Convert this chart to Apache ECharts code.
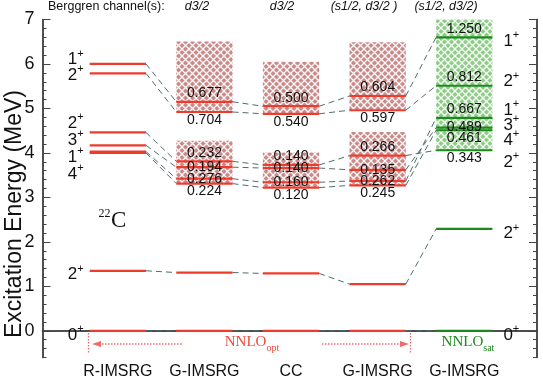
<!DOCTYPE html>
<html>
<head>
<meta charset="utf-8">
<script src="https://cdn.jsdelivr.net/npm/echarts@6/dist/echarts.min.js"></script>
<style>
  html, body { margin: 0; padding: 0; background: #fff; }
  #main { width: 543px; height: 386px; }
</style>
</head>
<body>
<div id="main"></div>
<script>
// columns (methods) and Berggren channels
var columnNames = ['R-IMSRG', 'G-IMSRG', 'CC', 'G-IMSRG', 'G-IMSRG'];
var channelNames = ['d3/2', 'd3/2', '(s1/2, d3/2 )', '(s1/2, d3/2)'];

// states: 0+, 2+(1), 2+, 3+, 1+, 4+ (lower group), 2+, 1+ (upper group)
var stateSpins = ['0', '2', '2', '3', '1', '4', '2', '1'];

// excitation energies (MeV) per column
var levelsRImsrg = [0, 1.35, 4.46, 4.17, 4.03, 4.00, 5.79, 6.00];
var levelsGImsrg = [0, 1.31, 3.81, 3.68, 3.42, 3.31, 4.92, 5.15];
var levelsCC     = [0, 1.29, 3.73, 3.66, 3.34, 3.22, 4.88, 5.05];
var levelsGImsrg2 = [0, 1.05, 3.94, 3.62, 3.37, 3.27, 4.96, 5.28];
var levelsSat    = [0, 2.29, 4.06, 4.57, 4.79, 4.51, 5.51, 6.60];

// widths (MeV) per column
var widthsRImsrg = [null, null, null, null, null, null, null, null];
var widthsGImsrg = [null, null, 0.232, 0.194, 0.276, 0.224, 0.704, 0.677];
var widthsCC     = [null, null, 0.140, 0.140, 0.160, 0.120, 0.540, 0.500];
var widthsGImsrg2 = [null, null, 0.266, 0.135, 0.262, 0.245, 0.597, 0.604];
var widthsSat    = [null, null, 0.343, 0.489, 0.667, 0.461, 0.812, 1.250];

var yTicks = [0, 1, 2, 3, 4, 5, 6, 7];

// ---- layout (not data) ----
var levels = [levelsRImsrg, levelsGImsrg, levelsCC, levelsGImsrg2, levelsSat];
var widths = [widthsRImsrg, widthsGImsrg, widthsCC, widthsGImsrg2, widthsSat];
var boxGroups = [[], [[2, 3, 4, 5], [6, 7]], [[2, 3, 4, 5], [6, 7]], [[2, 3, 4, 5], [6, 7]], [[2, 3, 4, 5, 6, 7]]];
var widthSide = [null,
  ['', '', 'a', 'o', 'o', 'b', 'b', 'a'],
  ['', '', 'a', 'o', 'o', 'b', 'b', 'a'],
  ['', '', 'a', 'o', 'o', 'b', 'b', 'a'],
  ['', '', 'b', 'o', 'a', 'b', 'a', 'a']];
var leftSpinAt = [-0.06, 1.3, 4.71, 4.32, 3.94, 3.56, 5.79, 6.13];
var rightSpinAt = [-0.07, 2.22, 3.83, 4.66, 5.0, 4.32, 5.64, 6.54];

var red = '#ef3b2c', green = '#1b8a1b', dash = '#4d6d6d';
var hw = 0.325, yMax = 7;

function hatch(base) {
  var c = document.createElement('canvas');
  c.width = c.height = 7;
  var g = c.getContext('2d');
  g.fillStyle = base;
  g.fillRect(0, 0, 7, 7);
  g.strokeStyle = 'rgba(255,255,255,0.95)';
  g.lineWidth = 1.3;
  g.beginPath();
  g.moveTo(0, 0); g.lineTo(7, 7);
  g.moveTo(7, 0); g.lineTo(0, 7);
  g.stroke();
  return c;
}
var redHatch = { image: hatch('#cb8a8a'), repeat: 'repeat' };
var greenHatch = { image: hatch('#8dcd86'), repeat: 'repeat' };

// build series data
var levelData = [], connData = [], boxData = [], widthData = [], spinData = [];
levels.forEach(function (col, c) {
  col.forEach(function (e, s) {
    levelData.push([c + 1, e, c === 4 ? 1 : 0]);
    if (c < 4) connData.push([c + 1, e, levels[c + 1][s]]);
    if (widths[c][s] != null) {
      var side = widthSide[c][s] === 'a' ? 0 : widthSide[c][s] === 'o' ? 1 : 2;
      widthData.push([c + 1, e, widths[c][s], side]);
    }
  });
  boxGroups[c].forEach(function (g) {
    var lo = Infinity, hi = -Infinity;
    g.forEach(function (s) {
      lo = Math.min(lo, col[s]);
      hi = Math.max(hi, col[s] + 2 * widths[c][s]);
    });
    boxData.push([c + 1, lo, Math.min(hi, yMax), c === 4 ? 1 : 0]);
  });
});
stateSpins.forEach(function (sp, s) {
  spinData.push([1, leftSpinAt[s], s, 0]);
  spinData.push([5, rightSpinAt[s], s, 1]);
});

var font = 'Liberation Sans, Arial, Helvetica, sans-serif';
var serif = 'Liberation Serif, Times New Roman, serif';

var chart = echarts.init(document.getElementById('main'));

var option = {
  animation: false,
  grid: { left: 42.5, right: 6, top: 19.5, bottom: 28.5 },
  xAxis: [
    {
      type: 'value', min: 0.13, max: 5.84, position: 'bottom',
      axisLine: { lineStyle: { color: '#444', width: 1.5 } },
      axisTick: { show: false }, splitLine: { show: false },
      axisLabel: {
        customValues: [1, 2, 3, 4, 5], margin: 6,
        formatter: function (v) { return columnNames[Math.round(v) - 1]; },
        color: '#111', fontSize: 16, fontFamily: font
      }
    },
    {
      type: 'value', min: 0.13, max: 5.84, position: 'top',
      axisLine: { lineStyle: { color: '#444', width: 1.5 } },
      axisTick: { show: false }, axisLabel: { show: false }, splitLine: { show: false }
    }
  ],
  yAxis: [
    {
      type: 'value', min: -0.6, max: yMax, interval: 0.2, position: 'left',
      axisLine: { show: true, lineStyle: { color: '#444', width: 1.5 } },
      axisTick: { inside: true, length: 4, lineStyle: { color: '#444' } },
      axisLabel: { show: false }, splitLine: { show: false }
    },
    {
      type: 'value', min: -0.6, max: yMax, position: 'left',
      axisLine: { show: true, lineStyle: { color: '#444', width: 1.5 } },
      axisTick: { inside: true, length: 8, customValues: yTicks, lineStyle: { color: '#444' } },
      axisLabel: { customValues: yTicks, margin: 8, color: '#111', fontSize: 18, fontFamily: font },
      splitLine: { show: false }
    },
    {
      type: 'value', min: -0.6, max: yMax, interval: 0.2, position: 'right',
      axisLine: { show: true, lineStyle: { color: '#444', width: 1.5 } },
      axisTick: { inside: true, length: 4, lineStyle: { color: '#444' } },
      axisLabel: { show: false }, splitLine: { show: false }
    },
    {
      type: 'value', min: -0.6, max: yMax, position: 'right',
      axisLine: { show: true, lineStyle: { color: '#444', width: 1.5 } },
      axisTick: { inside: true, length: 8, customValues: yTicks, lineStyle: { color: '#444' } },
      axisLabel: { show: false }, splitLine: { show: false }
    }
  ],
  graphic: [
    { type: 'text', left: 48, top: 0, style: { text: 'Berggren channel(s):', fontSize: 12.5, fontFamily: font, fill: '#111' } },
    { type: 'text', x: 197, y: 7, style: { text: channelNames[0], fontSize: 12.5, fontStyle: 'italic', fontFamily: font, fill: '#111', align: 'center', verticalAlign: 'middle' } },
    { type: 'text', x: 282, y: 7, style: { text: channelNames[1], fontSize: 12.5, fontStyle: 'italic', fontFamily: font, fill: '#111', align: 'center', verticalAlign: 'middle' } },
    { type: 'text', x: 364, y: 7, style: { text: channelNames[2], fontSize: 12.5, fontStyle: 'italic', fontFamily: font, fill: '#111', align: 'center', verticalAlign: 'middle' } },
    { type: 'text', x: 446, y: 7, style: { text: channelNames[3], fontSize: 12.5, fontStyle: 'italic', fontFamily: font, fill: '#111', align: 'center', verticalAlign: 'middle' } },
    { type: 'text', x: 15, y: 214, rotation: Math.PI / 2, style: { text: 'Excitation Energy (MeV)', fontSize: 23, fontFamily: font, fill: '#111', align: 'center', verticalAlign: 'middle' } },
    // 22C
    { type: 'text', x: 111, y: 221, style: { text: 'C', fontSize: 23, fontFamily: serif, fill: '#111', align: 'left', verticalAlign: 'middle' } },
    { type: 'text', x: 110.5, y: 214, style: { text: '22', fontSize: 12, fontFamily: serif, fill: '#111', align: 'right', verticalAlign: 'middle' } },
    // NNLO annotations
    { type: 'line', shape: { x1: 88.5, y1: 333, x2: 88.5, y2: 353 }, style: { stroke: '#f06a6a', lineWidth: 1.3, lineDash: [1.5, 1.5] } },
    { type: 'line', shape: { x1: 99, y1: 344, x2: 183, y2: 344 }, style: { stroke: '#f06a6a', lineWidth: 1.3, lineDash: [1.5, 1.5] } },
    { type: 'polygon', shape: { points: [[92, 344], [101, 341], [101, 347]] }, style: { fill: '#f06a6a' } },
    { type: 'line', shape: { x1: 322, y1: 344, x2: 402, y2: 344 }, style: { stroke: '#f06a6a', lineWidth: 1.3, lineDash: [1.5, 1.5] } },
    { type: 'polygon', shape: { points: [[409, 344], [400, 341], [400, 347]] }, style: { fill: '#f06a6a' } },
    { type: 'line', shape: { x1: 410.5, y1: 333, x2: 410.5, y2: 353 }, style: { stroke: '#f06a6a', lineWidth: 1.3, lineDash: [1.5, 1.5] } },
    { type: 'text', x: 252, y: 344, style: {
        text: '{a|NNLO}{b|opt}', align: 'center', verticalAlign: 'middle',
        rich: { a: { fontSize: 15, fontFamily: serif, fill: '#ef4a3a', lineHeight: 18, verticalAlign: 'top' },
                b: { fontSize: 10, fontFamily: serif, fill: '#ef4a3a', lineHeight: 18, verticalAlign: 'bottom' } } } },
    { type: 'text', x: 468, y: 344, style: {
        text: '{a|NNLO}{b|sat}', align: 'center', verticalAlign: 'middle',
        rich: { a: { fontSize: 15, fontFamily: serif, fill: green, lineHeight: 18, verticalAlign: 'top' },
                b: { fontSize: 10, fontFamily: serif, fill: green, lineHeight: 18, verticalAlign: 'bottom' } } } }
  ],
  series: [
    {
      type: 'custom', name: 'boxes', z: 1,
      data: boxData,
      encode: { x: 0, y: 1 },
      renderItem: function (params, api) {
        var x = api.value(0);
        var p1 = api.coord([x - hw, api.value(2)]);
        var p2 = api.coord([x + hw, api.value(1)]);
        return {
          type: 'rect',
          shape: { x: p1[0], y: p1[1], width: p2[0] - p1[0], height: p2[1] - p1[1] },
          style: { fill: api.value(3) ? greenHatch : redHatch }
        };
      }
    },
    {
      type: 'custom', name: 'connectors', z: 2,
      data: connData,
      encode: { x: 0, y: 1 },
      renderItem: function (params, api) {
        var x = api.value(0);
        var p1 = api.coord([x + hw, api.value(1)]);
        var p2 = api.coord([x + 1 - hw, api.value(2)]);
        return {
          type: 'line',
          shape: { x1: p1[0], y1: p1[1], x2: p2[0], y2: p2[1] },
          style: { stroke: dash, lineWidth: 1, lineDash: [6, 4] }
        };
      }
    },
    {
      type: 'custom', name: 'levels', z: 3,
      data: levelData,
      encode: { x: 0, y: 1 },
      renderItem: function (params, api) {
        var x = api.value(0);
        var p1 = api.coord([x - hw, api.value(1)]);
        var p2 = api.coord([x + hw, api.value(1)]);
        return {
          type: 'line',
          shape: { x1: p1[0], y1: p1[1], x2: p2[0], y2: p2[1] },
          style: { stroke: api.value(2) ? green : red, lineWidth: 2.2 }
        };
      }
    },
    {
      type: 'custom', name: 'widths', z: 4,
      data: widthData,
      encode: { x: 0, y: 1 },
      renderItem: function (params, api) {
        var p = api.coord([api.value(0), api.value(1)]);
        var side = api.value(3);
        var dy = side === 0 ? -8.5 : side === 1 ? 0 : 8;
        return {
          type: 'text',
          x: p[0], y: p[1] + dy,
          style: {
            text: api.value(2).toFixed(3), fontSize: 14, fontFamily: font, fill: '#111',
            align: 'center', verticalAlign: 'middle'
          }
        };
      }
    },
    {
      type: 'custom', name: 'spins', z: 4,
      data: spinData,
      encode: { x: 0, y: 1 },
      renderItem: function (params, api) {
        var right = api.value(3) === 1;
        var x = api.value(0) + (right ? hw : -hw);
        var p = api.coord([x, api.value(1)]);
        return {
          type: 'text',
          x: p[0] + (right ? 11 : -6), y: p[1],
          style: {
            text: '{n|' + stateSpins[api.value(2)] + '}{s|+}',
            align: right ? 'left' : 'right', verticalAlign: 'middle',
            rich: {
              n: { fontSize: 17, fontFamily: font, fill: '#111', lineHeight: 20, verticalAlign: 'bottom' },
              s: { fontSize: 11, fontFamily: font, fill: '#111', lineHeight: 20, verticalAlign: 'top' }
            }
          }
        };
      }
    }
  ]
};

chart.setOption(option);
</script>
</body>
</html>
